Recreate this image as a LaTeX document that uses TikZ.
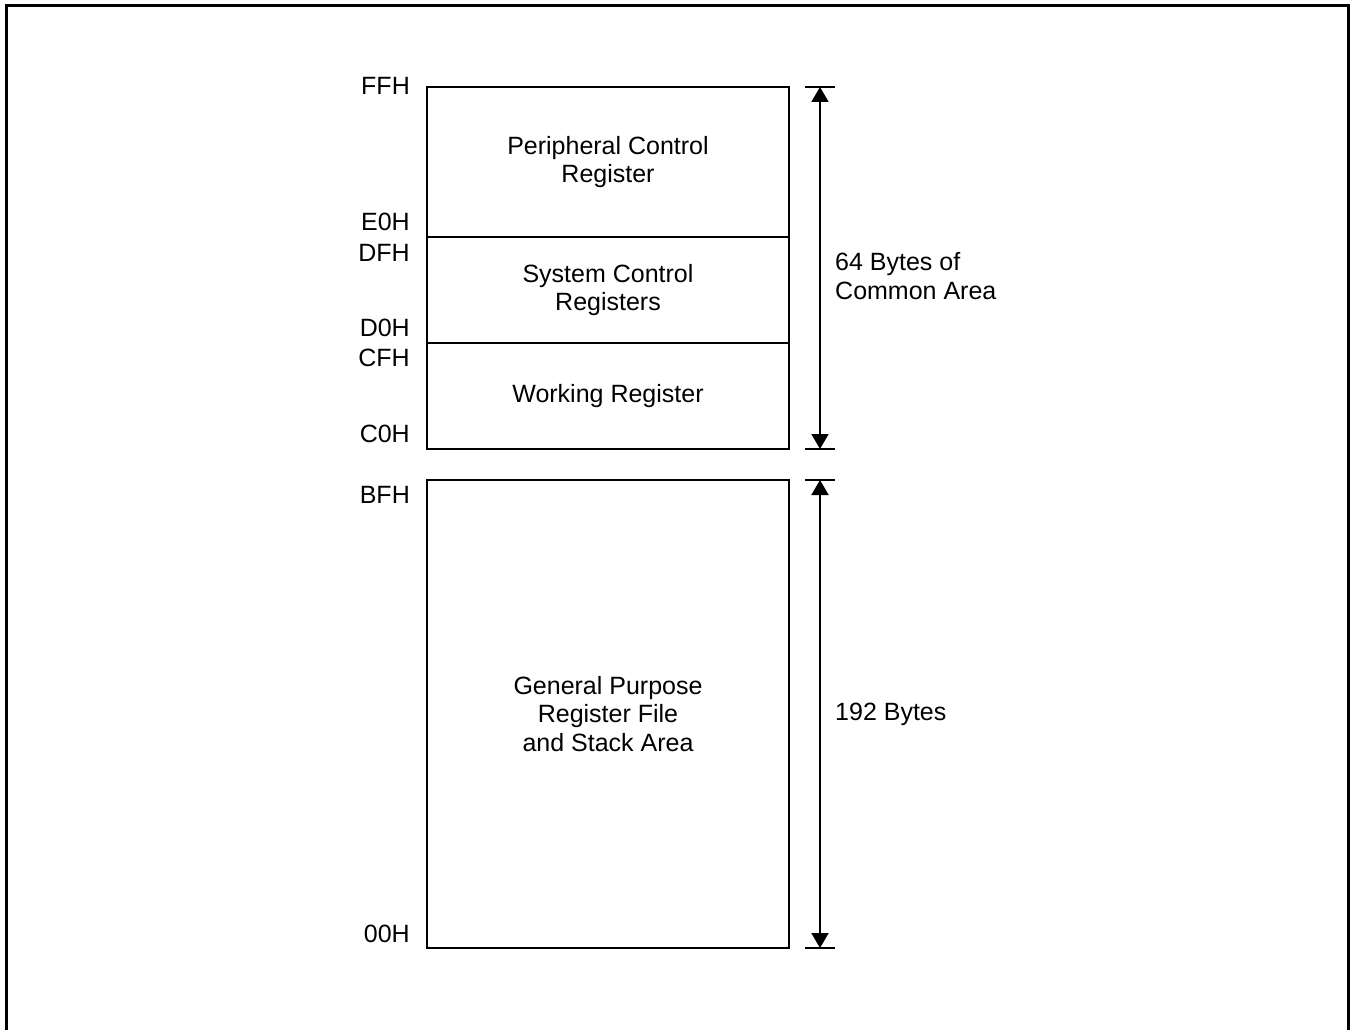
\documentclass[tikz,border=0pt]{standalone}
\usepackage{fontspec}
\setmainfont{Liberation Sans}
\usepackage{tikz}
\usetikzlibrary{arrows.meta}

\begin{document}
\begin{tikzpicture}[
  x=1pt, y=-1pt,
  txt/.style={font=\fontsize{25}{28.5}\selectfont},
  regbox/.style={txt, draw, line width=2pt, minimum width=362pt, align=center, inner sep=0pt},
  addr/.style={txt, anchor=east, inner sep=0pt},
  sizelab/.style={txt, anchor=west, align=left, inner sep=0pt},
  dim/.style={{Triangle[length=15pt,width=17pt]}-{Triangle[length=15pt,width=17pt]}, line width=2pt},
  tick/.style={line width=2pt},
]
\useasboundingbox (0,0) rectangle (1352,1030);
\draw[line width=3pt] (6,1030) -- (6,6) -- (1348,6) -- (1348,1030);

% register blocks
\node[regbox, minimum height=150pt] (pcr) at (608,162) {Peripheral Control\\Register};
\node[regbox, minimum height=106pt] (scr) at (608,290) {System Control\\Registers};
\node[regbox, minimum height=106pt] (wr)  at (608,396) {Working Register};
\node[regbox, minimum height=468pt] (gp)  at (608,714) {General Purpose\\Register File\\and Stack Area};

% addresses
\node[addr] (ffh) at (410,86)  {FFH};
\node[addr] (e0h) at (410,222) {E0H};
\node[addr] (dfh) at (410,253) {DFH};
\node[addr] (d0h) at (410,328) {D0H};
\node[addr] (cfh) at (410,358) {CFH};
\node[addr] (c0h) at (410,434) {C0H};
\node[addr] (bfh) at (410,495) {BFH};
\node[addr] (zzh) at (410,934) {00H};

% size arrows
\coordinate (t1) at (820,87);
\coordinate (b1) at (820,449);
\coordinate (t2) at (820,480);
\coordinate (b2) at (820,948);
\foreach \c in {t1,b1,t2,b2}
  \draw[tick] (\c) ++(-15,0) -- ++(30,0);
\draw[dim] (t1) -- (b1);
\draw[dim] (t2) -- (b2);
\node[sizelab] (common) at (835,276) {64 Bytes of\\Common Area};
\node[sizelab] (gpsize) at (835,714) {192 Bytes};
\end{tikzpicture}
\end{document}
